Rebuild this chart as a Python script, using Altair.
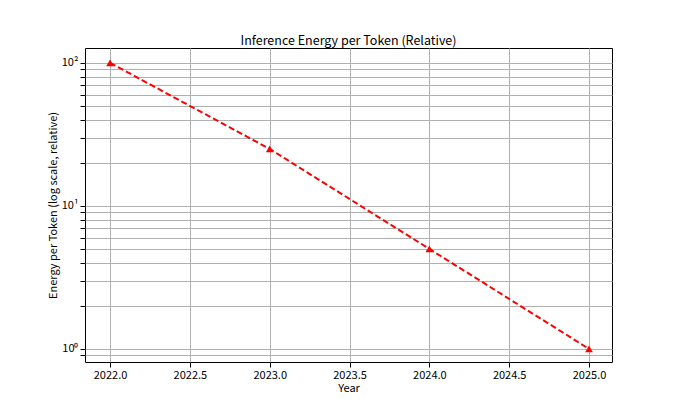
import altair as alt
import pandas as pd

years = [2022, 2023, 2024, 2025]
energy = [100, 25, 5, 1]

df = pd.DataFrame({"Year": years, "Energy": energy})

grid_vals = [0.9] + [m * 10**k for k in (0, 1) for m in range(1, 10)] + [100]
font = "Noto Sans CJK SC"

x = alt.X("Year:Q", title="Year",
          scale=alt.Scale(domain=[2021.843, 2025.144], nice=False, zero=False),
          axis=alt.Axis(values=[2022 + 0.5 * i for i in range(7)], format=".1f",
                        gridColor="#b0b0b0", tickColor="black", labelColor="black",
                        titleColor="black", labelFontSize=11, titleFontSize=11,
                        titleFontWeight="normal", labelFont=font, titleFont=font,
                        domain=False, titlePadding=2))
y = alt.Y("Energy:Q", title="Energy per Token (log scale, relative)",
          scale=alt.Scale(type="log", domain=[0.81, 127], nice=False),
          axis=alt.Axis(values=grid_vals,
                        labelExpr="datum.value == 1 ? '10⁰' : datum.value == 10 ? '10¹' : datum.value == 100 ? '10²' : ''",
                        gridColor="#b0b0b0", tickColor="black", labelColor="black",
                        titleColor="black", labelFontSize=11, titleFontSize=11,
                        titleFontWeight="normal", labelFont=font, titleFont=font,
                        domain=False, titlePadding=3))

base = alt.Chart(df)
line = base.mark_line(color="red", strokeDash=[6, 3], strokeWidth=2).encode(x=x, y=y)
pts = base.mark_point(shape="triangle-up", filled=True, color="red", opacity=1, size=60).encode(x=x, y=y)

chart = (line + pts).properties(
    width=527, height=314,
    title=alt.TitleParams("Inference Energy per Token (Relative)", font=font,
                          fontSize=12.5, fontWeight="normal", color="black", offset=1),
    autosize="none",
    padding={"left": 77, "top": 40, "right": 60, "bottom": 40},
).configure_view(stroke="black", strokeWidth=1)

chart.save("out.html", embed_options={"renderer": "svg", "actions": False})
